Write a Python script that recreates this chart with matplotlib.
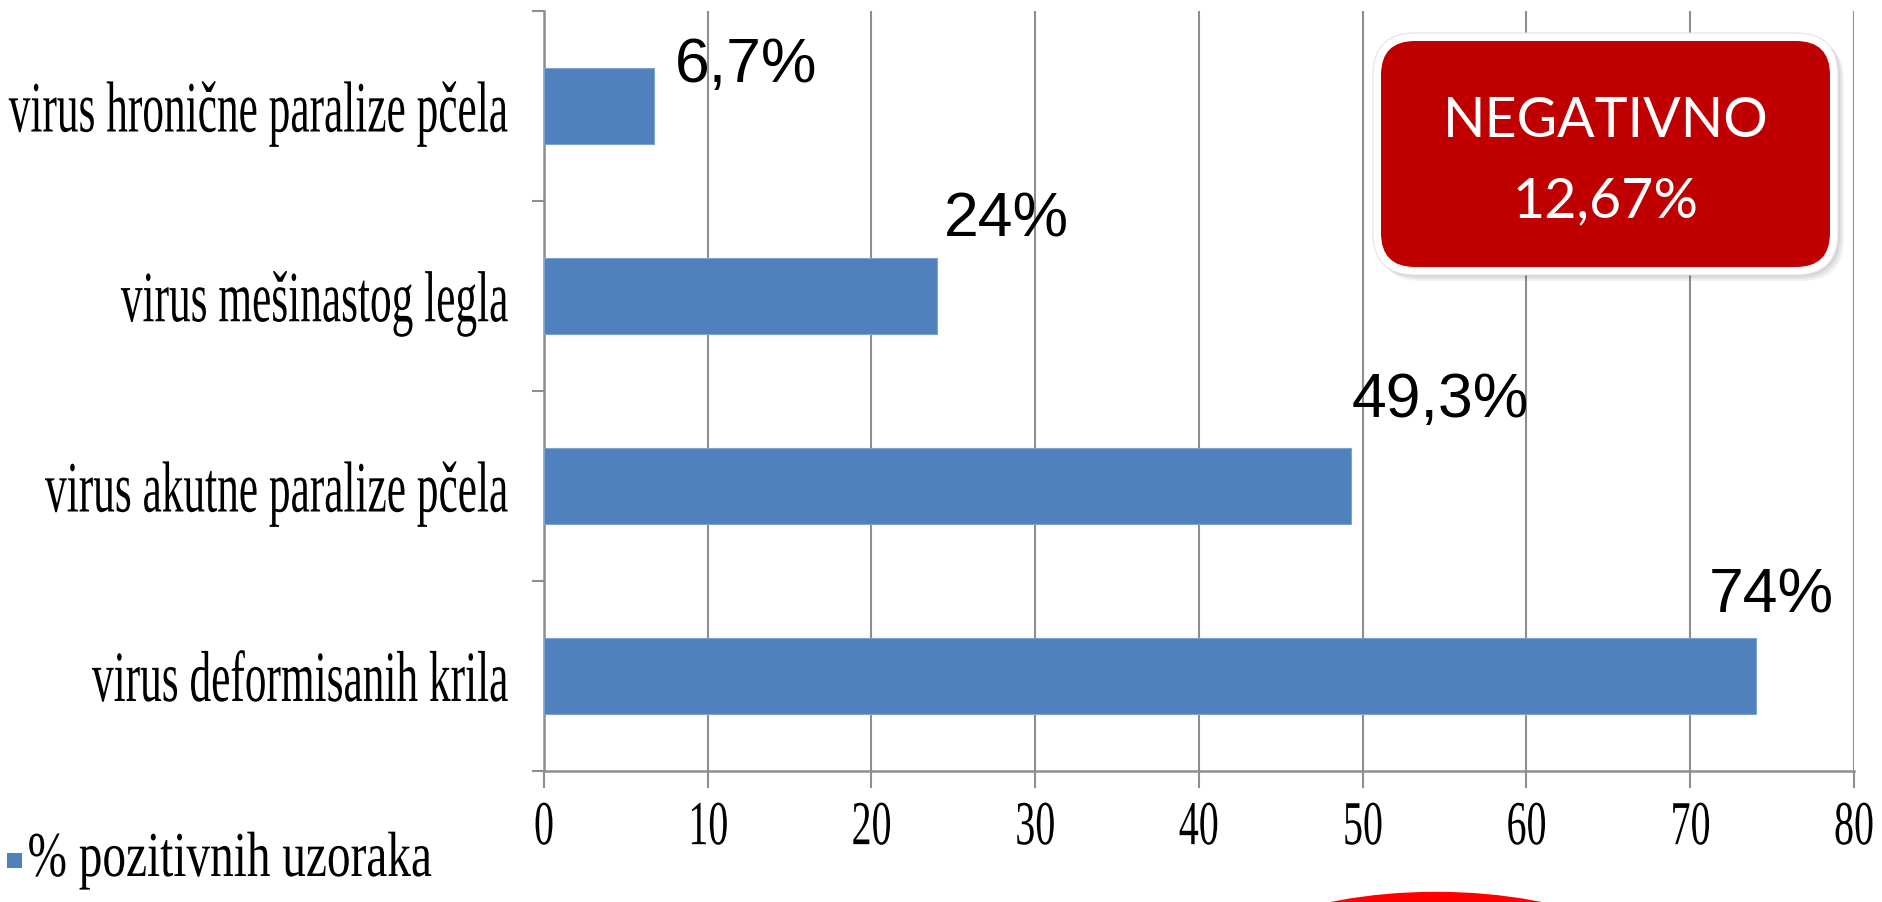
import matplotlib
matplotlib.use("Agg")
import matplotlib.pyplot as plt
import matplotlib.patches as mpatches
import matplotlib.patheffects as patheffects
from matplotlib.transforms import Affine2D

# data
viruses = ["virus hronične paralize pčela", "virus mešinastog legla",
           "virus akutne paralize pčela", "virus deformisanih krila"]
positive = [6.7, 24, 49.3, 74]
value_labels = ["6,7%", "24%", "49,3%", "74%"]
series_name = "% pozitivnih uzoraka"
negative_share = "12,67%"
xticks = [0, 10, 20, 30, 40, 50, 60, 70, 80]

# label nudges (data units) from the bar tip
label_dx = [1.3, 0.4, 0.0, -2.9]
label_dy = [-0.13, -0.32, -0.37, -0.34]

W, H = 1883, 903
GRID = "#8e8e8e"
BLUE = "#4f81bd"


class Squeeze(patheffects.AbstractPathEffect):
    """Draw text glyphs narrower, keeping one edge fixed."""

    def __init__(self, sx, anchor="right"):
        super().__init__()
        self.sx = sx
        self.anchor = anchor

    def draw_path(self, renderer, gc, tpath, affine, rgbFace=None):
        ext = tpath.get_extents()
        x0 = {"left": ext.x0, "right": ext.x1,
              "center": (ext.x0 + ext.x1) / 2}[self.anchor]
        sq = Affine2D().translate(-x0, 0).scale(self.sx, 1).translate(x0, 0)
        renderer.draw_path(gc, tpath, sq + affine, rgbFace)


def fx(px):
    return px / W


def fy(py):
    return 1 - py / H


fig = plt.figure(figsize=(W / 100, H / 100), dpi=100)
ax = fig.add_axes([fx(544), fy(772), fx(1854) - fx(544), fy(12) - fy(772)])

ypos = list(range(len(viruses)))
ax.barh(ypos, positive, height=0.4, color=BLUE, edgecolor="#7fa3cf",
        linewidth=0.8, zorder=3)

ax.set_xlim(0, 80)
ax.set_ylim(3.5, -0.5)
ax.set_xticks(xticks)
ax.set_yticks(ypos)
ax.set_yticklabels(viruses)
ax.set_yticks([-0.5, 0.5, 1.5, 2.5, 3.5], minor=True)

ax.grid(axis="x", color=GRID, linewidth=1.5, zorder=0)
for side in ["top", "right"]:
    ax.spines[side].set_visible(False)
for side in ["left", "bottom"]:
    ax.spines[side].set_color(GRID)
    ax.spines[side].set_linewidth(1.8)

ax.tick_params(axis="y", which="major", length=0, pad=25)
ax.tick_params(axis="y", which="minor", length=9, width=1.5, color=GRID)
ax.tick_params(axis="x", length=12, width=1.5, color=GRID, pad=9)

for t in ax.get_yticklabels():
    t.set_fontfamily("Liberation Serif")
    t.set_fontsize(52)
    t.set_path_effects([Squeeze(0.6, "right")])
for t in ax.get_xticklabels():
    t.set_fontfamily("Liberation Serif")
    t.set_fontsize(45)
    t.set_path_effects([Squeeze(0.64, "center")])

# percentage labels
for i, v in enumerate(positive):
    ax.text(v + label_dx[i], i + label_dy[i], value_labels[i],
            family="Liberation Sans", fontsize=45, ha="left", va="baseline")

# series key in the lower left corner
fig.add_artist(mpatches.Rectangle((fx(7), fy(869)), fx(15), 15 / H,
                                  transform=fig.transFigure,
                                  facecolor=BLUE, edgecolor="none"))
key = fig.text(fx(27), fy(877), series_name, family="Liberation Serif",
               fontsize=46, ha="left", va="baseline")
key.set_path_effects([Squeeze(0.74, "left")])

# red call-out box
x0, x1, y0, y1 = 1381, 1830, 42, 268
asp = W / H
for k, a in enumerate([0.06, 0.06, 0.05]):
    off = 2 + 2 * k
    fig.add_artist(mpatches.FancyBboxPatch(
        (fx(x0 - 8 + off), fy(y1 + 8 + off)), fx(x1 - x0 + 16), (y1 - y0 + 16) / H,
        boxstyle="round,pad=0,rounding_size=%f" % fx(42), mutation_aspect=asp,
        transform=fig.transFigure, facecolor="black", edgecolor="none",
        alpha=a))
fig.add_artist(mpatches.FancyBboxPatch(
    (fx(x0 - 8), fy(y1 + 8)), fx(x1 - x0 + 16), (y1 - y0 + 16) / H,
    boxstyle="round,pad=0,rounding_size=%f" % fx(42), mutation_aspect=asp,
    transform=fig.transFigure, facecolor="white", edgecolor="#e4e4e4",
    linewidth=0.8))
fig.add_artist(mpatches.FancyBboxPatch(
    (fx(x0), fy(y1)), fx(x1 - x0), (y1 - y0) / H,
    boxstyle="round,pad=0,rounding_size=%f" % fx(34), mutation_aspect=asp,
    transform=fig.transFigure, facecolor="#c00000", edgecolor="none"))
fig.text(fx((x0 + x1) / 2), fy(137), "NEGATIVNO", color="white",
         family="Lato", fontsize=40, ha="center", va="baseline")
fig.text(fx((x0 + x1) / 2), fy(217), negative_share, color="white",
         family="Lato", fontsize=40, ha="center", va="baseline")

# red ring running off the bottom edge
fig.add_artist(mpatches.Ellipse((fx(1436), fy(1008)), fx(500), 220 / H,
                                transform=fig.transFigure, fill=False,
                                edgecolor="#ff0000", linewidth=7.5))

fig.savefig("out.png", dpi=100)
